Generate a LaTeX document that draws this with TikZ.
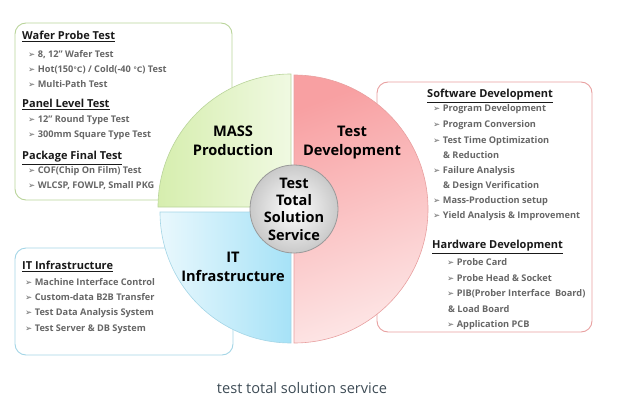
\documentclass[tikz,border=0pt]{standalone}
\usepackage{fontspec}
\setmainfont{Open Sans}
\newfontfamily\symfont{DejaVu Sans}
\usetikzlibrary{positioning}

\definecolor{massfill}{HTML}{D6EEAE}
\definecolor{masslight}{HTML}{F0F9E2}
\definecolor{massline}{HTML}{B9D49A}
\definecolor{devfill}{HTML}{F8A0A2}
\definecolor{devlight}{HTML}{FDE6E6}
\definecolor{devline}{HTML}{E8A0A0}
\definecolor{itfill}{HTML}{A6E2F7}
\definecolor{itlight}{HTML}{E9F8FD}
\definecolor{itline}{HTML}{A3D5E6}
\definecolor{itemgray}{HTML}{666666}
\definecolor{captext}{HTML}{3D4B55}

\newcommand{\arrowmark}{{\symfont\fontsize{8.5}{8.5}\selectfont ➢}\hspace{2.5pt}}
\newcommand{\degc}{{\symfont\fontsize{7.5}{7.5}\selectfont ℃}}

\begin{document}
\begin{tikzpicture}	[
		x=1pt,y=-1pt,
		box/.style={line width=0.9pt, rounded corners=11pt},
		head/.style={anchor=west, inner sep=0, text height=8, text depth=2.5,
			font=\bfseries\fontsize{11}{12}\selectfont, text=black!90},
		item/.style={anchor=west, inner sep=0, text height=6.5, text depth=2,
			font=\bfseries\fontsize{9.2}{10}\selectfont, text=itemgray},
		sector/.style={align=center, inner sep=0,
			font=\bfseries\fontsize{14.6}{19}\selectfont},
	]
		\useasboundingbox (0,0) rectangle (618,412);

		% list boxes
		\draw[box, draw=massline] (15,23) rectangle (232,200);
		\draw[box, draw=itline] (15,248) rectangle (233,355);
		\draw[box, draw=devline] (377,82) rectangle (592,332);

		% pie
		\shade[left color=massfill, right color=masslight, draw=massline, line width=0.6pt]
			(291,207) -- (158,207) arc(180:270:133) -- cycle;
		\shade[top color=devfill, bottom color=devlight, shading angle=20, draw=devline, line width=0.6pt]
			(294,75) arc(270:450:134) -- cycle;
		\shade[left color=itlight, right color=itfill, draw=itline, line width=0.6pt]
			(291,212) -- (291,343) arc(90:180:131) -- cycle;

		\path
			(233,141) node[sector](mass){MASS\\Production}
			(352,143) node[sector](dev){Test\\Development}
			(233,267) node[sector](infra){IT\\Infrastructure}
			(294,209) node[circle, minimum size=88, inner sep=0, draw=gray!80, line width=0.8pt,
				inner color=white, outer color=gray!42, align=center,
				font=\bfseries\fontsize{14.5}{17.3}\selectfont](hub){Test\\Total\\Solution\\Service}
		;

		% mass production list
		\path
			(22,37) node[head](wafer){\underline{Wafer Probe Test}}
			(28,55) node[item](w1){\arrowmark 8, 12” Wafer Test}
			(28,70) node[item](w2){\arrowmark Hot(150\degc) / Cold(-40 \degc) Test}
			(28,85) node[item](w3){\arrowmark Multi-Path Test}
			(22,105) node[head](panel){\underline{Panel Level Test}}
			(28,120) node[item](p1){\arrowmark 12” Round Type Test}
			(28,135) node[item](p2){\arrowmark 300mm Square Type Test}
			(22,157) node[head](pkg){\underline{Package Final Test}}
			(28,171) node[item](k1){\arrowmark COF(Chip On Film) Test}
			(28,186) node[item](k2){\arrowmark WLCSP, FOWLP, Small PKG}
		;

		% infrastructure list
		\path
			(22,267) node[head](itinf){\underline{IT Infrastructure}}
			(25,283) node[item](t1){\arrowmark Machine Interface Control}
			(25,298) node[item](t2){\arrowmark Custom-data B2B Transfer}
			(25,313) node[item](t3){\arrowmark Test Data Analysis System}
			(25,329) node[item](t4){\arrowmark Test Server \& DB System}
		;

		% development list
		\path
			(427,95) node[head](sw){\underline{Software Development}}
			(433,109) node[item](s1){\arrowmark Program Development}
			(433,125) node[item](s2){\arrowmark Program Conversion}
			(433,141) node[item](s3){\arrowmark Test Time Optimization}
			(443,156) node[item](s3b){\& Reduction}
			(433,171) node[item](s4){\arrowmark Failure Analysis}
			(443,186) node[item](s4b){\& Design Verification}
			(433,201) node[item](s5){\arrowmark Mass-Production setup}
			(433,216) node[item](s6){\arrowmark Yield Analysis \& Improvement}
			(432,246) node[head](hw){\underline{Hardware Development}}
			(447,263) node[item](h1){\arrowmark Probe Card}
			(447,279) node[item](h2){\arrowmark Probe Head \& Socket}
			(447,294) node[item](h3){\arrowmark PIB(Prober Interface\ \ Board)}
			(448,310) node[item](h3b){\& Load Board}
			(447,325) node[item](h4){\arrowmark Application PCB}
		;

		\node[inner sep=0, text=captext, font=\fontsize{14.6}{17}\selectfont] (caption) at (302,388)
			{test total solution service};
	\end{tikzpicture}
\end{document}
